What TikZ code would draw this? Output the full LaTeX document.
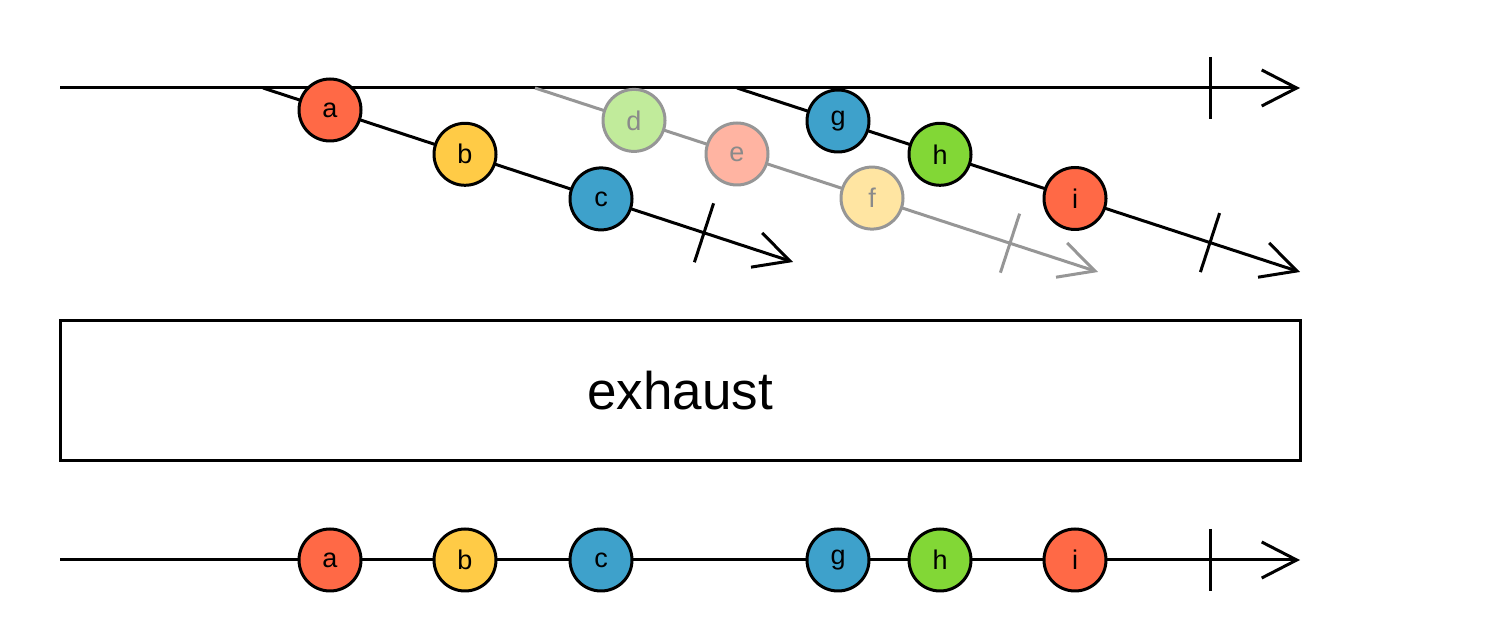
\documentclass[tikz,border=0pt]{standalone}
\usepackage{fontspec}
\setmainfont{Liberation Sans}
\usetikzlibrary{arrows.meta,backgrounds}
\definecolor{mred}{HTML}{FF6946}
\definecolor{myel}{HTML}{FFCB46}
\definecolor{mblu}{HTML}{3EA1CB}
\definecolor{mgrn}{HTML}{82D736}
\definecolor{fred}{HTML}{FFB4A2}
\definecolor{fyel}{HTML}{FFE5A2}
\definecolor{fgrn}{HTML}{C1EB9B}
\definecolor{fgray}{HTML}{969696}
\definecolor{ftxt}{HTML}{8A8A8A}
\tikzset{
  marble/.style={circle, draw=black, line width=1.5pt, minimum size=31pt, inner sep=0pt, font=\fontsize{13.5}{15}\selectfont},
  faded/.style={marble, draw=fgray, text=ftxt},
  tl/.style={line width=1.5pt, draw=black, -{Straight Barb[length=17.5pt,width=18pt,line width=1.5pt]}},
  ftl/.style={tl, draw=fgray},
  tickmark/.style={line width=1.5pt, draw=black},
  ftick/.style={tickmark, draw=fgray},
  opbox/.style={draw=black, line width=1.5pt, minimum width=620pt, minimum height=70pt, font=\fontsize{26.5}{30}\selectfont}
}
\begin{document}
\begin{tikzpicture}[x=0.5pt,y=-0.5pt]
\useasboundingbox (0,0) rectangle (1500,624);
% top source line
\coordinate (s0) at (60,88);
\coordinate (e0) at (1300,88);
\coordinate (t0) at (1210,88);
% inner 1
\coordinate (s1) at (263,88);
\coordinate (e1) at (793,262);
\coordinate (t1) at (704,232.8);
\node[marble, fill=mred] (a) at (330,110) {a};
\node[marble, fill=myel] (b) at (465,154.3) {b};
\node[marble, fill=mblu] (c) at (601,198.9) {c};
% inner 2 (faded)
\coordinate (s2) at (535,88);
\coordinate (e2) at (1098,272);
\coordinate (t2) at (1010,243.2);
\node[faded, fill=fgrn] (d) at (634,120.4) {d};
\node[faded, fill=fred] (e) at (737,154) {e};
\node[faded, fill=fyel] (f) at (872,198.1) {f};
% inner 3
\coordinate (s3) at (737,88);
\coordinate (e3) at (1300,272);
\coordinate (t3) at (1210,242.6);
\node[marble, fill=mblu] (g) at (838,121) {g};
\node[marble, fill=mgrn] (h) at (940,154.3) {h};
\node[marble, fill=mred] (i) at (1075,198.5) {i};
% operator box
\node[opbox] (op) at (680,391) {exhaust};
% output line
\coordinate (so) at (60,560);
\coordinate (eo) at (1300,560);
\coordinate (to) at (1210,560);
\node[marble, fill=mred] (oa) at (330,560) {a};
\node[marble, fill=myel] (ob) at (465,560) {b};
\node[marble, fill=mblu] (oc) at (601,560) {c};
\node[marble, fill=mblu] (og) at (838,560) {g};
\node[marble, fill=mgrn] (oh) at (940,560) {h};
\node[marble, fill=mred] (oi) at (1075,560) {i};
\begin{pgfonlayer}{background}
\draw[tl] (s0) -- (e0);
\draw[tickmark] ([shift={(0,-31)}]t0) -- ([shift={(0,31)}]t0);
\draw[ftl] (s2) -- (e2);
\draw[ftick] ([shift={(9.6,-29.5)}]t2) -- ([shift={(-9.6,29.5)}]t2);
\draw[tl] (s1) -- (e1);
\draw[tickmark] ([shift={(9.6,-29.5)}]t1) -- ([shift={(-9.6,29.5)}]t1);
\draw[tl] (s3) -- (e3);
\draw[tickmark] ([shift={(9.6,-29.5)}]t3) -- ([shift={(-9.6,29.5)}]t3);
\draw[tl] (so) -- (eo);
\draw[tickmark] ([shift={(0,-31)}]to) -- ([shift={(0,31)}]to);
\end{pgfonlayer}
\end{tikzpicture}
\end{document}
